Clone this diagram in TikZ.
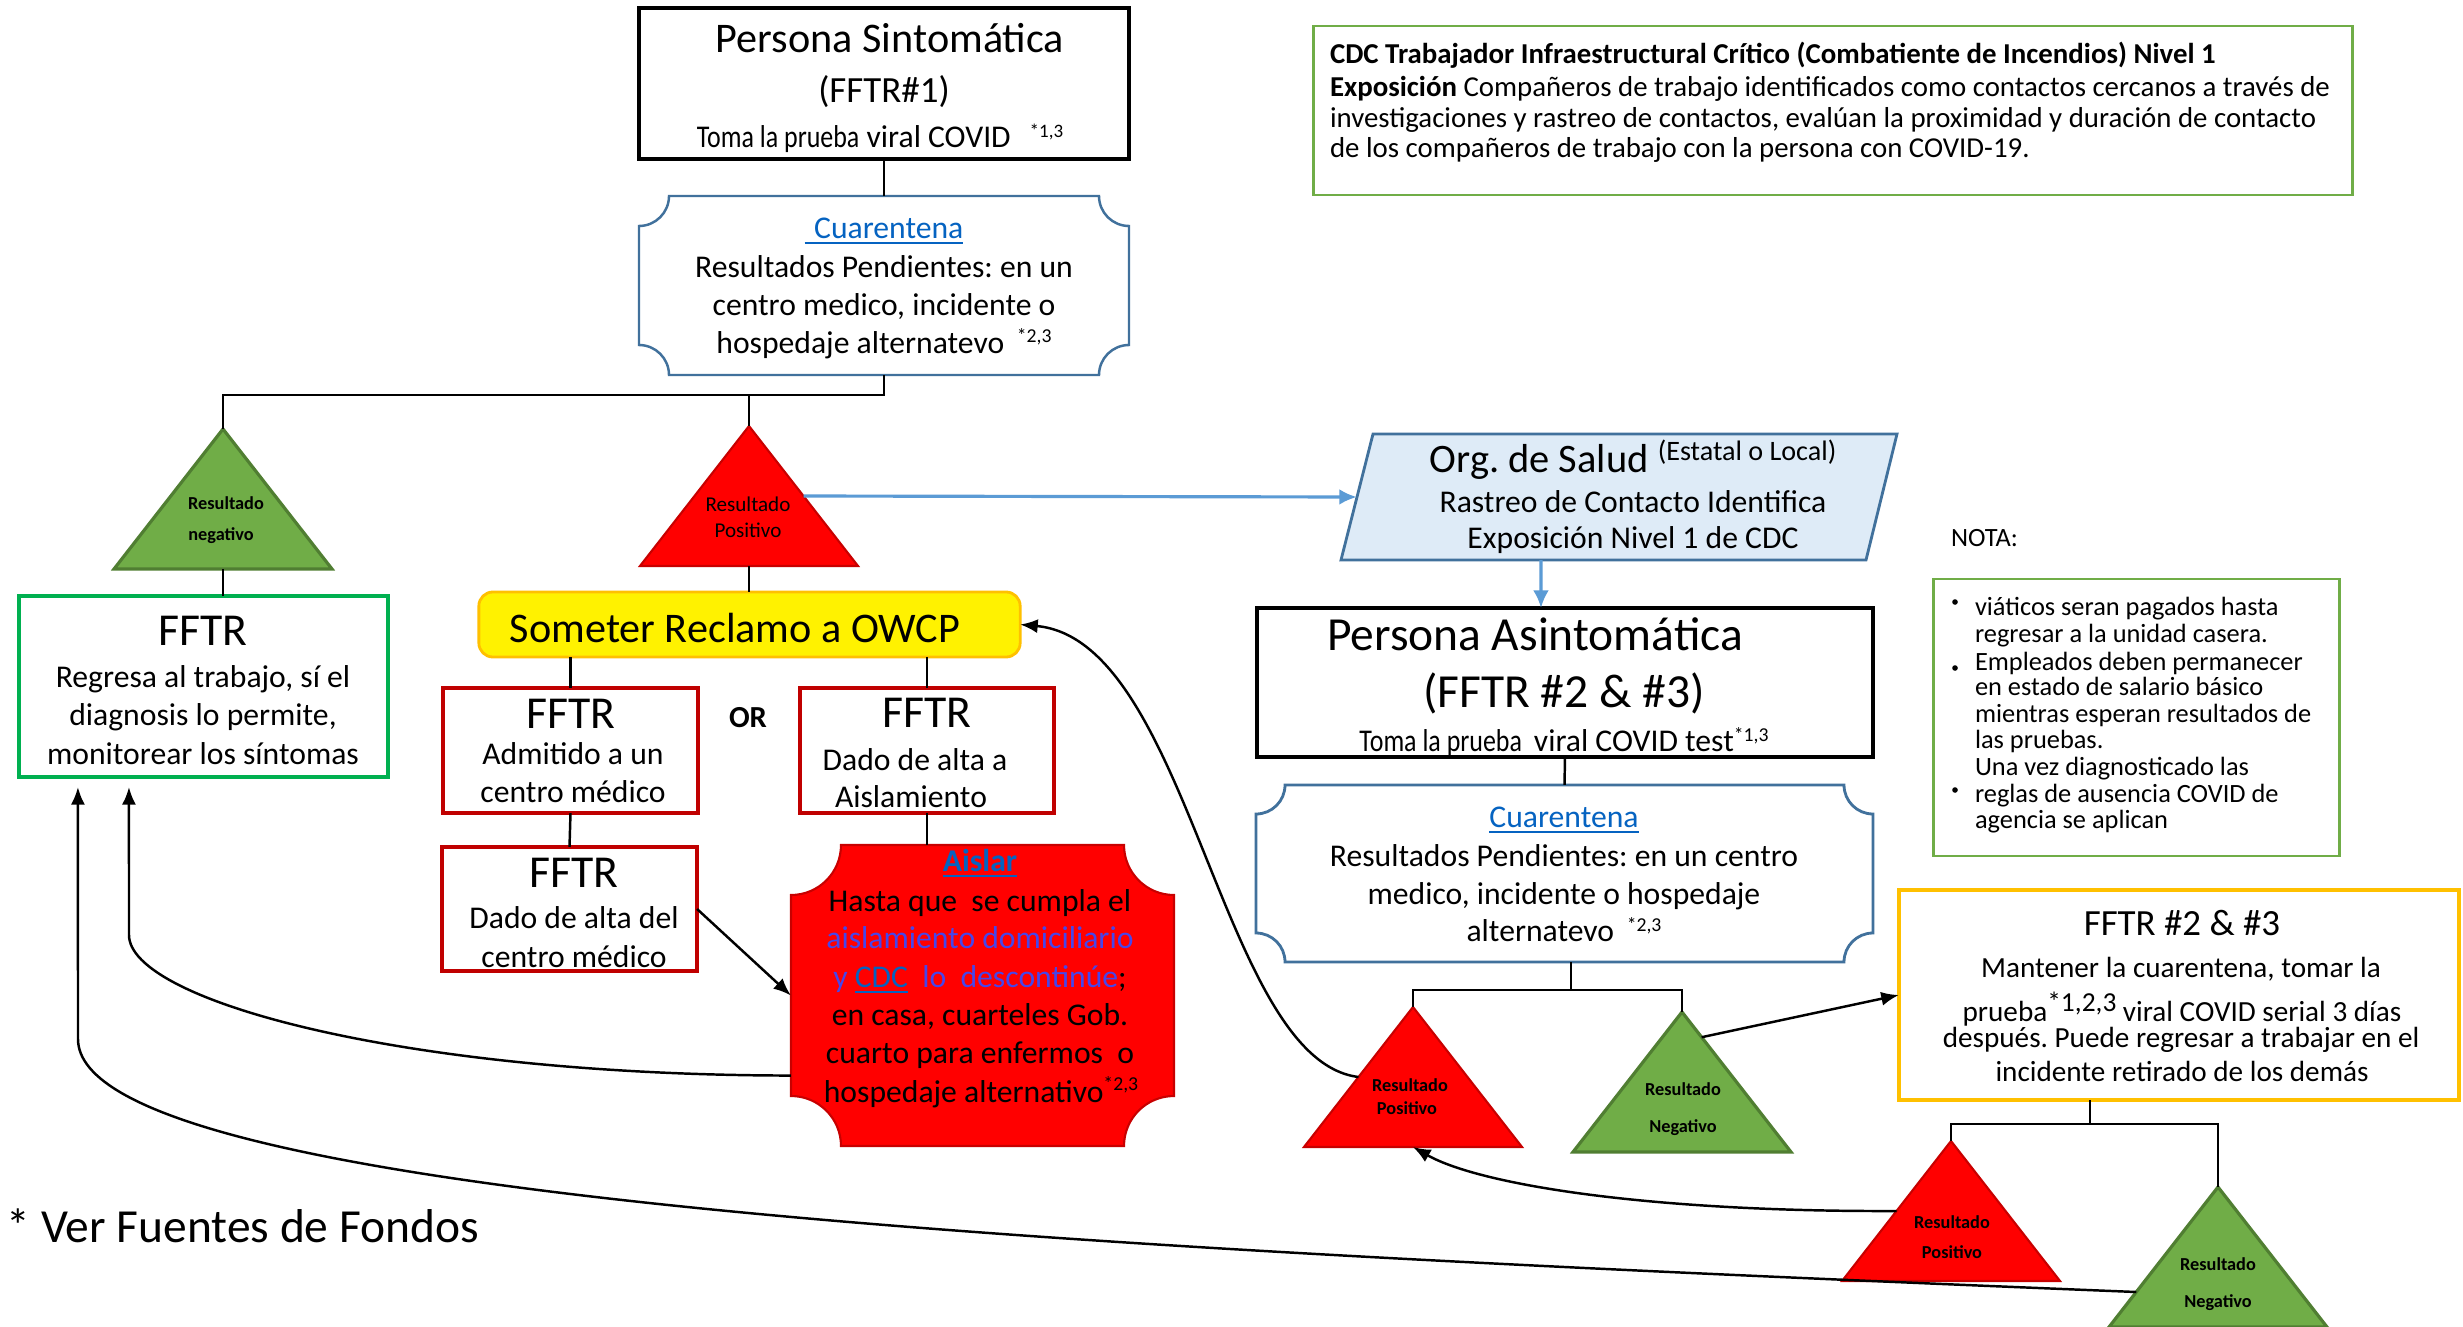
\documentclass[tikz,border=0pt]{standalone}
\usepackage{fontspec}
\setmainfont{Carlito}
\usepackage{graphicx}
\usetikzlibrary{arrows.meta,calc}
\definecolor{cuarblue}{RGB}{65,113,156}
\definecolor{linkblue}{RGB}{5,99,193}
\definecolor{vblue}{RGB}{70,70,235}
\definecolor{trired}{RGB}{255,0,0}
\definecolor{triredb}{RGB}{200,0,0}
\definecolor{trigreen}{RGB}{112,173,71}
\definecolor{trigreenb}{RGB}{80,126,50}
\definecolor{boxred}{RGB}{192,0,0}
\definecolor{boxgreen}{RGB}{0,176,80}
\definecolor{gold}{RGB}{255,192,0}
\definecolor{orgfill}{RGB}{222,235,247}
\definecolor{arrblue}{RGB}{91,155,213}
\definecolor{notegreen}{RGB}{112,173,71}
\newcommand{\fs}[2]{\fontsize{#1}{#2}\selectfont}
\newcommand{\supx}[3]{\raisebox{#2}{\fontsize{#1}{#1}\selectfont #3}}
\newcommand{\cond}[1]{\scalebox{0.82}[1]{#1}}
% triangle: name, apex x, apex y, style
\newcommand{\tri}[4]{%
  \draw[#4] (#2,#3) coordinate (#1a) -- ({#2+109},{#3+140}) coordinate (#1r)
     -- ({#2-109},{#3+140}) coordinate (#1l) -- cycle;
  \coordinate (#1b) at (#2,{#3+140});}
% plaque with concave corners: style, x1, y1, x2, y2, r
\newcommand{\plaque}[6]{%
  \draw[#1] (#2,{#3+#6}) .. controls ({#2+0.5523*#6},{#3+#6}) and ({#2+#6},{#3+0.5523*#6}) .. ({#2+#6},#3)
   -- ({#4-#6},#3) .. controls ({#4-#6},{#3+0.5523*#6}) and ({#4-0.5523*#6},{#3+#6}) .. (#4,{#3+#6})
   -- (#4,{#5-#6}) .. controls ({#4-0.5523*#6},{#5-#6}) and ({#4-#6},{#5-0.5523*#6}) .. ({#4-#6},#5)
   -- ({#2+#6},#5) .. controls ({#2+#6},{#5-0.5523*#6}) and ({#2+0.5523*#6},{#5-#6}) .. (#2,{#5-#6}) -- cycle;}
\begin{document}
\frenchspacing
\begin{tikzpicture}[x=0.01cm,y=-0.01cm,
  conn/.style={draw=black, line width=0.7pt},
  arr/.style={conn, -{Latex[length=5pt,width=4pt]}},
  barr/.style={draw=arrblue, line width=0.9pt, -{Latex[length=5pt,width=4.5pt]}},
  frame/.style={rectangle, inner sep=0pt, outer sep=0pt},
  blackbox/.style={frame, draw=black, line width=1.2pt},
  redbox/.style={frame, draw=boxred, line width=1.1pt},
  greenbox/.style={frame, draw=boxgreen, line width=1.1pt},
  goldbox/.style={frame, draw=gold, line width=1.1pt},
  notebox/.style={frame, draw=notegreen, line width=0.8pt},
  ghost/.style={frame},
  tx/.style={inner sep=0pt, outer sep=0pt, anchor=base},
  txl/.style={inner sep=0pt, outer sep=0pt, anchor=base west},
  redtri/.style={fill=trired, draw=triredb, line width=0.6pt},
  greentri/.style={fill=trigreen, draw=trigreenb, line width=0.9pt},
  ttb/.style={tx, font=\fs{5.2}{6}\bfseries},
  ttr/.style={tx, font=\fs{6}{7}},
  fnine/.style={tx, font=\fs{9}{11}},
  fftr/.style={tx, font=\fs{13}{15}},
  cdct/.style={txl, font=\fs{8.2}{9}},
  notet/.style={txl, font=\fs{7.5}{8}},
  fftwo/.style={tx, font=\fs{8.3}{9}}
]
\fill[white] (0,0) rectangle (2463,1327);
\useasboundingbox (0,0) rectangle (2463,1327);

% ---------- Persona Sintomatica ----------
\node[blackbox, minimum width=4.90cm, minimum height=1.51cm] (ps) at (884,83.5) {};
\node[tx, font=\fs{12}{14}] (pst1) at (890,52) {Persona Sintomática};
\node[tx, font=\fs{10.5}{12}] (pst2) at (884,102) {(FFTR\#1)};
\node[tx, font=\fs{9}{11}] (pst3) at (880,147) {\cond{Toma la prueba} viral COVID\hspace{0.6em}\supx{5.4}{0.09cm}{*1,3}};

% ---------- Cuarentena 1 ----------
\plaque{draw=cuarblue, line width=0.7pt, fill=white}{639}{196}{1129}{375}{30}
\node[ghost, minimum width=4.90cm, minimum height=1.79cm] (cu1) at (884,285.5) {};
\node[fnine, text=linkblue] (cu1t0) at (884,238) {\underline{\hspace{0.3em}Cuarentena}};
\node[fnine] (cu1t1) at (884,277) {Resultados Pendientes: en un};
\node[fnine] (cu1t2) at (884,315) {centro medico, incidente o};
\node[fnine] (cu1t3) at (884,353) {hospedaje alternatevo\hspace{0.4em}\supx{5.6}{0.1cm}{*2,3}};

% ---------- triangles ----------
\tri{gt1}{223}{429}{greentri}
\tri{rt1}{749}{426}{redtri}
\tri{rt2}{1413}{1007}{redtri}
\tri{gt2}{1682}{1012}{greentri}
\tri{rt3}{1951}{1141}{redtri}
\tri{gt3}{2218}{1187}{greentri}
\node[ttb] (gt1t1) at (226,509) {Resultado};
\node[ttb] (gt1t2) at (221,540) {negativo};
\node[ttr] (rt1t1) at (748,511) {Resultado};
\node[ttr] (rt1t2) at (748,537) {Positivo};
\node[ttb] (rt2t1) at (1410,1091) {Resultado};
\node[ttb] (rt2t2) at (1407,1114) {Positivo};
\node[ttb] (gt2t1) at (1683,1095) {Resultado};
\node[ttb] (gt2t2) at (1683,1132) {Negativo};
\node[ttb] (rt3t1) at (1952,1228) {Resultado};
\node[ttb] (rt3t2) at (1952,1258) {Positivo};
\node[ttb] (gt3t1) at (2218,1270) {Resultado};
\node[ttb] (gt3t2) at (2218,1307) {Negativo};
\coordinate (rt1R) at ($(rt1a)!0.5!(rt1r)$);
\coordinate (rt2L) at ($(rt2a)!0.5!(rt2l)$);
\coordinate (gt2R) at ($(gt2a)!0.18!(gt2r)$);
\coordinate (rt3L) at ($(rt3a)!0.5!(rt3l)$);
\coordinate (gt3L) at ($(gt3a)!0.75!(gt3l)$);

% ---------- green FFTR ----------
\node[greenbox, minimum width=3.69cm, minimum height=1.81cm] (ff1) at (203.5,686.5) {};
\node[fftr] (ff1t0) at (203,645) {FFTR};
\node[fnine] (ff1t1) at (203,687) {Regresa al trabajo, sí el};
\node[fnine] (ff1t2) at (203,725) {diagnosis lo permite,};
\node[fnine] (ff1t3) at (203,764) {monitorear los síntomas};

% ---------- Someter ----------
\node[frame, draw=gold, fill=yellow, line width=0.8pt, rounded corners=4pt,
      minimum width=5.41cm, minimum height=0.65cm] (som) at (749.5,624.5) {};
\node[tx, font=\fs{12}{14}] (somt) at (735,642) {Someter Reclamo a OWCP};

% ---------- red FFTR boxes ----------
\node[redbox, minimum width=2.55cm, minimum height=1.25cm] (adm) at (570.5,750.5) {};
\node[fftr] (admt0) at (571,728) {FFTR};
\node[fnine] (admt1) at (573,764) {Admitido a un};
\node[fnine] (admt2) at (573,802) {centro médico};
\node[tx, font=\fs{8.7}{10}\bfseries] (ort) at (748,727) {OR};
\node[redbox, minimum width=2.54cm, minimum height=1.25cm] (dal) at (927,750.5) {};
\node[fftr] (dalt0) at (927,727) {FFTR};
\node[fnine] (dalt1) at (915,770) {Dado de alta a};
\node[fnine] (dalt2) at (911,807) {Aislamiento};
\node[redbox, minimum width=2.55cm, minimum height=1.24cm] (dad) at (569.5,909) {};
\node[fftr] (dadt0) at (574,887) {FFTR};
\node[fnine] (dadt1) at (574,928) {Dado de alta del};
\node[fnine] (dadt2) at (574,967) {centro médico};

% ---------- Aislar ----------
\plaque{fill=trired, draw=triredb, line width=0.6pt}{791}{845}{1174}{1146}{50}
\node[ghost, minimum width=3.83cm, minimum height=3.01cm] (ais) at (982.5,995.5) {};
\node[fnine, text=linkblue, font=\fs{9}{11}\bfseries] (aist0) at (980,871) {\underline{Aislar}};
\node[fnine] (aist1) at (980,911) {Hasta que\ \ se cumpla el};
\node[fnine, text=vblue] (aist2) at (980,948) {aislamiento domiciliario};
\node[fnine] (aist3) at (980,987) {{\color{vblue}y} {\color{linkblue}\underline{CDC}}\ \ {\color{vblue}lo\ \ descontinúe};};
\node[fnine] (aist4) at (980,1025) {en casa, cuarteles Gob.};
\node[fnine] (aist5) at (980,1063) {cuarto para enfermos\ \ o};
\node[fnine] (aist6) at (981,1102) {hospedaje alternativo\supx{5.6}{0.12cm}{*2,3}};

% ---------- CDC box ----------
\node[notebox, minimum width=10.38cm, minimum height=1.69cm] (cdc) at (1833,110.5) {};
\node[cdct] (cdct1) at (1330,64) {\bfseries CDC Trabajador Infraestructural Crítico (Combatiente de Incendios) Nivel 1};
\node[cdct] (cdct2) at (1330,96) {\textbf{Exposición} Compañeros de trabajo identificados como contactos cercanos a través de};
\node[cdct] (cdct3) at (1330,127) {investigaciones y rastreo de contactos, evalúan la proximidad y duración de contacto};
\node[cdct] (cdct4) at (1330,157) {de los compañeros de trabajo con la persona con COVID-19.};

% ---------- Org de Salud ----------
\draw[fill=orgfill, draw=cuarblue, line width=0.8pt] (1373,434) -- (1897,434) -- (1866,560) -- (1341,560) -- cycle;
\node[ghost, minimum width=5.24cm, minimum height=1.26cm] (org) at (1619,497) {};
\node[tx, font=\fs{11.5}{13}] (orgt1) at (1633,472) {Org. de Salud \supx{8}{0.12cm}{(Estatal o Local)}};
\node[fnine] (orgt2) at (1633,512) {Rastreo de Contacto Identifica};
\node[fnine] (orgt3) at (1633,548) {Exposición Nivel 1 de CDC};

% ---------- Persona Asintomatica ----------
\node[blackbox, line width=1.3pt, minimum width=6.16cm, minimum height=1.49cm] (pa) at (1565,682.5) {};
\node[tx, font=\fs{13.5}{15}] (pat1) at (1535,650) {Persona Asintomática};
\node[tx, font=\fs{13.5}{15}] (pat2) at (1564,707) {(FFTR \#2 \& \#3)};
\node[fnine] (pat3) at (1564,751) {\cond{Toma la prueba}\hspace{0.15em} viral COVID test\supx{5.6}{0.1cm}{*1,3}};

% ---------- Cuarentena 2 ----------
\plaque{draw=cuarblue, line width=0.8pt, fill=white}{1256}{785}{1873}{962}{29}
\node[ghost, minimum width=6.17cm, minimum height=1.77cm] (cu2) at (1564.5,873.5) {};
\node[fnine, text=linkblue] (cu2t0) at (1564,827) {\underline{Cuarentena}};
\node[fnine] (cu2t1) at (1564,866) {Resultados Pendientes: en un centro};
\node[fnine] (cu2t2) at (1564,904) {medico, incidente o hospedaje};
\node[fnine] (cu2t3) at (1564,941) {alternatevo\hspace{0.4em}\supx{5.6}{0.1cm}{*2,3}};

% ---------- NOTA ----------
\node[notet] (nota) at (1951,546) {NOTA:};
\node[notebox, minimum width=4.05cm, minimum height=2.77cm] (note) at (2136.5,717.5) {};
\fill (1955,602) circle[radius=0.028cm];
\fill (1955,668) circle[radius=0.028cm];
\fill (1955,790) circle[radius=0.028cm];
\node[notet] (n1) at (1975,615) {viáticos seran pagados hasta};
\node[notet] (n2) at (1975,642) {regresar a la unidad casera.};
\node[notet] (n3) at (1975,670) {Empleados deben permanecer};
\node[notet] (n4) at (1975,695) {en estado de salario básico};
\node[notet] (n5) at (1975,722) {mientras esperan resultados de};
\node[notet] (n6) at (1975,748) {las pruebas.};
\node[notet] (n7) at (1975,775) {Una vez diagnosticado las};
\node[notet] (n8) at (1975,802) {reglas de ausencia COVID de};
\node[notet] (n9) at (1975,828) {agencia se aplican};

% ---------- FFTR #2 & #3 ----------
\node[goldbox, minimum width=5.60cm, minimum height=2.10cm] (ff2) at (2179,995) {};
\node[tx, font=\fs{10.5}{12}] (ff2t0) at (2182,935) {FFTR \#2 \& \#3};
\node[fftwo] (ff2t1) at (2181,977) {Mantener la cuarentena, tomar la};
\node[fftwo] (ff2t2) at (2182,1021) {prueba\supx{7.8}{0.1cm}{*1,2,3} viral COVID serial 3 días};
\node[fftwo] (ff2t3) at (2181,1047) {después. Puede regresar a trabajar en el};
\node[fftwo] (ff2t4) at (2182,1081) {incidente retirado de los demás};

% ---------- footnote ----------
\node[txl, font=\fs{13.5}{15}] (fuentes) at (7,1242) {* Ver Fuentes de Fondos};

% ---------- connectors ----------
\draw[conn] (ps.south) -- (cu1.north);
\draw[conn] (cu1.south) -- ++(0,20) -| (gt1a);
\draw[conn] (rt1a) -- ++(0,-31);
\draw[conn] (gt1b) -- (gt1b |- ff1.north);
\draw[conn] (rt1b) -- (rt1b |- som.north);
\draw[conn] (adm.north) -- (adm.north |- som.south);
\draw[conn] (dal.north) -- (dal.north |- som.south);
\draw[conn] (adm.south) -- (dad.north);
\draw[conn] (dal.south) -- (dal.south |- ais.north);
\draw[arr] (dad.east) -- (ais.west);
\draw[arr] ([yshift=-0.8cm]ais.west) .. controls (400,1075) and (129,1000) .. (129,935)
   -- ([xshift=-0.745cm,yshift=-0.1cm]ff1.south);
\draw[arr] (gt3L) .. controls (1100,1250) and (78,1200) .. (78,1039)
   -- ([xshift=-1.255cm,yshift=-0.1cm]ff1.south);
\draw[arr] (rt2L) .. controls (1220,1060) and (1190,640) .. (som.east);
\draw[arr] (gt2R) -- (ff2.west);
\draw[arr] (rt3L) .. controls (1650,1212) and (1480,1185) .. (rt2b);
\draw[barr] (rt1R) -- (org.west);
\draw[barr] ([xshift=-0.78cm]org.south) -- ([xshift=-0.24cm]pa.north);
\draw[conn] (pa.south) -- (cu2.north);
\draw[conn] ([xshift=0.065cm]cu2.south) -- ++(0,28);
\draw[conn] (rt2a) -- ++(0,-17) -| (gt2a);
\draw[conn] ([xshift=-0.89cm]ff2.south) -- ++(0,24);
\draw[conn] (rt3a) -- ++(0,-17) -| (gt3a);
\end{tikzpicture}
\end{document}
